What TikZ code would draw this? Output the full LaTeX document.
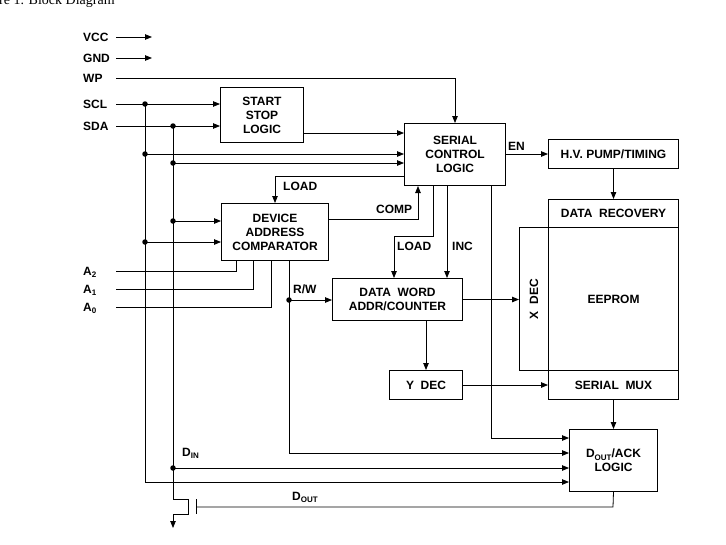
\documentclass[tikz,border=0pt]{standalone}
\usepackage{fontspec}
\setmainfont{Liberation Sans}
\newfontfamily\titleserif{Liberation Serif}
\usetikzlibrary{arrows.meta}
\newcommand\sbs[1]{\raisebox{-2.5pt}{\fontsize{8}{8}\selectfont #1}}
\begin{document}
\begin{tikzpicture}[x=1pt,y=-1pt,
  txt/.style={font=\bfseries\fontsize{12}{14}\selectfont},
  blk/.style={draw, line width=1pt, inner sep=0pt, align=center, txt, anchor=north west},
  lbl/.style={txt, inner sep=0pt, anchor=west},
  wire/.style={line width=0.8pt},
  arr/.style={wire, -{Triangle[length=7pt,width=5.5pt]}},
  dot/.style={circle, fill, inner sep=0pt, minimum size=5.5pt}]
\useasboundingbox (0,0) rectangle (726,544);
\clip (0,0) rectangle (726,544);
% title (cut at top)
\node[font=\titleserif\fontsize{14}{14}\selectfont, anchor=base west, inner sep=0pt] (title) at (-1,4) {re 1. Block Diagram};
% boxes
\node[blk, minimum width=83pt, minimum height=55pt] (start) at (220,87) {START\\STOP\\LOGIC};
\node[blk, minimum width=101pt, minimum height=62pt] (serial) at (404,123) {SERIAL\\CONTROL\\LOGIC};
\node[blk, minimum width=130pt, minimum height=29pt] (hv) at (548,139) {H.V. PUMP/TIMING};
\node[blk, minimum width=130pt, minimum height=28pt] (datarec) at (548,199) {DATA\ \ RECOVERY};
\node[blk, minimum width=29pt, minimum height=143pt] (xdec) at (519,227) {};
\node[blk, minimum width=130pt, minimum height=143pt] (eeprom) at (548,227) {EEPROM};
\node[blk, minimum width=130pt, minimum height=29pt] (smux) at (548,370) {SERIAL\ \ MUX};
\node[blk, minimum width=107pt, minimum height=57pt] (device) at (221,203) {DEVICE\\ADDRESS\\COMPARATOR};
\node[blk, minimum width=130pt, minimum height=42pt] (dataword) at (332,278) {DATA\ \ WORD\\ADDR/COUNTER};
\node[blk, minimum width=73pt, minimum height=29pt] (ydec) at (389,370) {Y\ \ DEC};
\node[blk, minimum width=88pt, minimum height=62pt] (dout) at (569,429) {D\sbs{OUT}/ACK\\LOGIC};
\node[txt, rotate=90, inner sep=0pt] (xdectxt) at (xdec.center) {X\ \ DEC};
% left labels
\node[lbl] (vcc) at (83,37) {VCC};
\node[lbl] (gnd) at (83,58) {GND};
\node[lbl] (wp) at (83,78) {WP};
\node[lbl] (scl) at (83,104) {SCL};
\node[lbl] (sda) at (83,126) {SDA};
\node[lbl, anchor=base west] (a2) at (83,275) {A\sbs{2}};
\node[lbl, anchor=base west] (a1) at (83,293) {A\sbs{1}};
\node[lbl, anchor=base west] (a0) at (83,311) {A\sbs{0}};
% inner labels
\node[lbl] (loadA) at (283,186) {LOAD};
\node[lbl] (comp) at (376,209) {COMP};
\node[lbl] (loadB) at (397,246) {LOAD};
\node[lbl] (inc) at (452,246) {INC};
\node[lbl] (en) at (508,146) {EN};
\node[lbl] (rw) at (293,289) {R/W};
\node[lbl, anchor=base west] (din) at (182,456) {D\sbs{IN}};
\node[lbl, anchor=base west] (doutl) at (292,500) {D\sbs{OUT}};
% coordinates
\coordinate (vccS) at (116,37); \coordinate (vccE) at (152,37);
\coordinate (gndS) at (116,58); \coordinate (gndE) at (152,58);
\coordinate (wpS) at (116,78);
\coordinate (sclS) at (116,104);
\coordinate (sdaS) at (116,126);
\coordinate (a2S) at (116,271); \coordinate (a2T) at (236,260);
\coordinate (a1S) at (116,289); \coordinate (a1T) at (253,260);
\coordinate (a0S) at (116,307); \coordinate (a0T) at (271,260);
\coordinate (r133) at (0,133);
\coordinate (r176) at (0,176);
\coordinate (r219) at (0,219);
\coordinate (c418) at (418,0);
\coordinate (k1) at (433,236); \coordinate (k2) at (394,236);
\coordinate (c447) at (447,0);
\coordinate (k3) at (491,438);
\coordinate (r453) at (0,453);
\coordinate (sclB) at (145,482);
\coordinate (t1) at (173,499); \coordinate (t2) at (188,499);
\coordinate (t3) at (188,514); \coordinate (t4) at (173,514);
\coordinate (gndA) at (173,528);
\coordinate (g1) at (196,499); \coordinate (g2) at (196,514);
\coordinate (g3) at (196,507); \coordinate (g4) at (613,507);
% dots
\node[dot] (d1) at (145,104) {};
\node[dot] (d2) at (173,126) {};
\node[dot] (d3) at (145,154) {};
\node[dot] (d4) at (173,163) {};
\node[dot] (d5) at (173,221) {};
\node[dot] (d6) at (145,242) {};
\node[dot] (d7) at (289,300) {};
\node[dot] (d8) at (173,468) {};
% input wires
\draw[arr] (vccS) -- (vccE);
\draw[arr] (gndS) -- (gndE);
\draw[arr] (wpS) -| (serial.north);
\draw[arr] (sclS) -- (start.west |- sclS);
\draw[arr] (sdaS) -- (start.west |- sdaS);
\draw[wire] (d1.center) -- (sclB);
\draw[arr] (sclB) -- (dout.west |- sclB);
\draw[wire] (d2.center) -- (t1) -- (t2) -- (t3) -- (t4);
\draw[arr] (t4) -- (gndA);
\draw[wire] (g1) -- (g2);
\draw[wire] (g3) -- (g4) -- (dout.south);
\draw[arr] (d3.center) -- (serial.west |- d3);
\draw[arr] (d4.center) -- (serial.west |- d4);
\draw[arr] (d5.center) -- (device.west |- d5);
\draw[arr] (d6.center) -- (device.west |- d6);
\draw[arr] (d8.center) -- (dout.west |- d8);
\draw[wire] (a2S) -| (a2T);
\draw[wire] (a1S) -| (a1T);
\draw[wire] (a0S) -| (a0T);
% internal wires
\draw[arr] (start.east |- r133) -- (serial.west |- r133);
\draw[arr] (serial.west |- r176) -| (device.north);
\draw[arr] (device.east |- r219) -| (serial.south -| c418);
\draw[arr] (serial.south -| k1) -- (k1) -- (k2) -- (dataword.north -| k2);
\draw[arr] (serial.south -| c447) -- (dataword.north -| c447);
\draw[arr] (serial.south -| k3) |- (dout.west |- k3);
\draw[arr] (serial.east |- hv.west) -- (hv.west);
\draw[arr] (hv.south) -- (datarec.north);
\draw[arr] (smux.south) -- (dout.north);
\draw[arr] (dataword.east) -- (xdec.west |- dataword.east);
\draw[arr] (dataword.south -| ydec.north) -- (ydec.north);
\draw[arr] (ydec.east) -- (smux.west);
\draw[wire] (device.south -| d7) -- (d7.center);
\draw[arr] (d7.center) |- (dout.west |- r453);
\draw[arr] (d7.center) -- (dataword.west |- d7);
\end{tikzpicture}
\end{document}
